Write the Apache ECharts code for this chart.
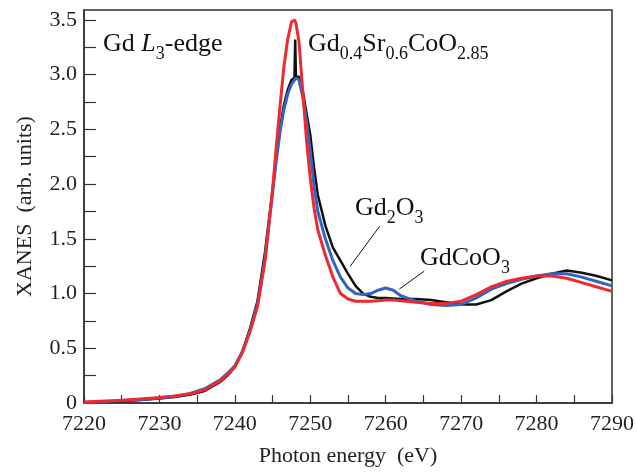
<!DOCTYPE html>
<html>
<head>
<meta charset="utf-8">
<script src="https://cdn.jsdelivr.net/npm/echarts@6/dist/echarts.min.js"></script>
<style>
  html, body { margin: 0; padding: 0; background: #fff; }
  #chart { width: 637px; height: 472px; }
</style>
</head>
<body>
<div id="chart"></div>
<script>
// photon energy grid (eV), shared by the three spectra
const energy = [7220, 7222, 7224, 7226, 7228, 7230, 7232, 7234, 7236, 7238, 7239, 7240,
  7241, 7242, 7243, 7244, 7245, 7245.5, 7246, 7246.5, 7247, 7247.5, 7247.9, 7248, 7248.1,
  7248.5, 7249, 7249.5, 7250, 7250.5, 7251, 7252, 7253, 7254, 7255, 7256, 7257, 7258,
  7259, 7260, 7261, 7262, 7264, 7266, 7268, 7270, 7272, 7274, 7276, 7278, 7280, 7282,
  7284, 7286, 7288, 7290];

// Gd0.4Sr0.6CoO2.85 (red)
const redVals = [0.01, 0.015, 0.02, 0.03, 0.04, 0.05, 0.065, 0.085, 0.12, 0.2, 0.26, 0.33,
  0.46, 0.65, 0.88, 1.30, 1.95, 2.35, 2.72, 3.07, 3.32, 3.48, 3.50, 3.49, 3.47,
  3.30, 2.85, 2.40, 2.05, 1.78, 1.58, 1.35, 1.15, 1.00, 0.95, 0.93, 0.93, 0.93,
  0.935, 0.94, 0.94, 0.935, 0.92, 0.91, 0.91, 0.93, 0.99, 1.06, 1.11, 1.14, 1.16, 1.16,
  1.14, 1.10, 1.06, 1.02];

// Gd2O3 (black)
const blackVals = [0.005, 0.01, 0.015, 0.02, 0.03, 0.04, 0.055, 0.075, 0.11, 0.19, 0.25, 0.33,
  0.47, 0.68, 0.93, 1.38, 1.95, 2.25, 2.52, 2.72, 2.86, 2.95, 2.97, 3.32, 2.98,
  2.98, 2.85, 2.65, 2.45, 2.15, 1.90, 1.62, 1.42, 1.30, 1.18, 1.07, 1.00, 0.97,
  0.96, 0.96, 0.955, 0.95, 0.95, 0.94, 0.92, 0.90, 0.90, 0.94, 1.02, 1.09, 1.14, 1.18,
  1.21, 1.19, 1.16, 1.12];

// GdCoO3 (blue)
const blueVals = [0.005, 0.01, 0.02, 0.025, 0.035, 0.045, 0.06, 0.085, 0.13, 0.21, 0.27, 0.34,
  0.47, 0.66, 0.90, 1.32, 1.92, 2.22, 2.48, 2.68, 2.82, 2.91, 2.95, 2.96, 2.97,
  2.95, 2.80, 2.58, 2.30, 1.98, 1.75, 1.50, 1.30, 1.15, 1.05, 1.00, 0.99, 1.00,
  1.03, 1.05, 1.03, 0.98, 0.93, 0.90, 0.89, 0.90, 0.96, 1.04, 1.09, 1.13, 1.16, 1.18,
  1.18, 1.15, 1.11, 1.07];

// leader lines for the labels (data coords)
const leaderGd2O3 = [[7259.2, 1.615], [7255.3, 1.25]];
const leaderGdCoO3 = [[7265.1, 1.204], [7261.8, 1.04]];

const chart = echarts.init(document.getElementById('chart'));

function pairs(vals) {
  return energy.map(function (e, i) { return [e, vals[i]]; });
}

const font = 'Liberation Serif';
// subscripts: top padding pushes the small glyphs below the baseline
const richStyle = {
  m: { fontFamily: font, fontSize: 26, lineHeight: 26, verticalAlign: 'top', fill: '#111' },
  i: { fontFamily: font, fontSize: 26, lineHeight: 26, verticalAlign: 'top', fontStyle: 'italic', fill: '#111' },
  s: { fontFamily: font, fontSize: 18, lineHeight: 18, padding: [14, 0, 0, 0], verticalAlign: 'top', fill: '#111' }
};

function label(x, y, text) {
  return {
    type: 'text',
    left: x,
    top: y,
    style: {
      text: text,
      rich: richStyle,
      fill: '#111'
    }
  };
}

const option = {
  animation: false,
  grid: {
    left: 84, right: 19, top: 10, bottom: 68,
    show: true, borderColor: '#333', borderWidth: 1.5
  },
  xAxis: {
    type: 'value',
    min: 7220, max: 7290, interval: 5,
    name: 'Photon energy  (eV)',
    nameLocation: 'middle',
    nameGap: 42,
    nameTextStyle: { fontFamily: font, fontSize: 22, color: '#222' },
    axisLine: { lineStyle: { color: '#333', width: 1.5 } },
    axisTick: { inside: true, length: 8, lineStyle: { color: '#333', width: 1.2 } },
    splitLine: { show: false },
    axisLabel: {
      fontFamily: font, fontSize: 22, color: '#222', margin: 10,
      formatter: function (v) { return v % 10 === 0 ? String(v) : ''; }
    }
  },
  yAxis: {
    type: 'value',
    min: 0, max: 3.59, interval: 0.25,
    name: 'XANES  (arb. units)',
    nameLocation: 'middle',
    nameGap: 48,
    nameTextStyle: { fontFamily: font, fontSize: 22, color: '#222' },
    axisLine: { show: true, lineStyle: { color: '#333', width: 1.5 } },
    axisTick: { inside: true, length: 12, lineStyle: { color: '#333', width: 1.2 } },
    splitLine: { show: false },
    axisLabel: {
      fontFamily: font, fontSize: 22, color: '#222', margin: 7,
      showMaxLabel: false,
      formatter: function (v) {
        const r = Math.round(v * 100) / 100;
        if (Math.abs(r * 2 - Math.round(r * 2)) > 1e-6 || r > 3.5) return '';
        return r === 0 ? '0' : r.toFixed(1);
      }
    }
  },
  series: [
    {
      name: 'Gd2O3', type: 'line', data: pairs(blackVals), showSymbol: false,
      lineStyle: { color: '#111', width: 2.5 }, z: 2
    },
    {
      name: 'GdCoO3', type: 'line', data: pairs(blueVals), showSymbol: false,
      lineStyle: { color: '#3563c0', width: 3 }, z: 3
    },
    {
      name: 'Gd0.4Sr0.6CoO2.85', type: 'line', data: pairs(redVals), showSymbol: false,
      lineStyle: { color: '#ec2a2f', width: 3 }, z: 4
    },
    {
      type: 'line', data: leaderGd2O3, showSymbol: false,
      lineStyle: { color: '#111', width: 1 }, z: 5
    },
    {
      type: 'line', data: leaderGdCoO3, showSymbol: false,
      lineStyle: { color: '#111', width: 1 }, z: 5
    }
  ],
  graphic: [
    label(103, 31, '{m|Gd }{i|L}{s|3}{m|-edge}'),
    label(308, 31, '{m|Gd}{s|0.4}{m|Sr}{s|0.6}{m|CoO}{s|2.85}'),
    label(355, 195, '{m|Gd}{s|2}{m|O}{s|3}'),
    label(420, 245, '{m|GdCoO}{s|3}')
  ]
};

chart.setOption(option);
</script>
</body>
</html>
